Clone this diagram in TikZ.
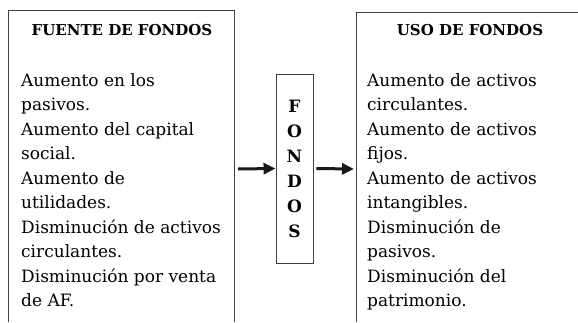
\documentclass[tikz,border=0pt]{standalone}
\usepackage{fontspec}
\setmainfont{DejaVu Serif}
\usetikzlibrary{arrows.meta}
\tikzset{
  frame/.style={draw=black!75, line width=0.9pt},
  coltext/.style={anchor=base west, align=left, inner sep=0pt, font=\fontsize{17}{24.5}\selectfont},
  coltitle/.style={anchor=base, inner sep=0pt, font=\fontsize{15}{16}\selectfont\bfseries},
  flow/.style={line width=3pt, -{Triangle[length=12pt,width=11pt]}, black!90},
  fbox/.style={draw=black!75, line width=0.9pt, minimum width=37pt, minimum height=189pt, inner sep=0pt, font=\fontsize{17}{25}\selectfont\bfseries, align=center}
}
\begin{document}
\begin{tikzpicture}[x=1pt,y=-1pt]
\useasboundingbox (0,0) rectangle (578,322);
% frames open at the bottom
\draw[frame] (8.5,322) -- (8.5,10.5) -- (234.5,10.5) -- (234.5,322);
\draw[frame] (356,322) -- (356,12) -- (578,12);
% titles
\node[coltitle] (t1) at (122,35.5) {FUENTE DE FONDOS};
\node[coltitle] (t2) at (470,35.5) {USO DE FONDOS};
% bodies (base anchor = baseline of the last line)
\node[coltext] (b1) at (21,306.5) {Aumento en los\\pasivos.\\Aumento del capital\\social.\\Aumento de\\utilidades.\\Disminución de activos\\circulantes.\\Disminución por venta\\de AF.};
\node[coltext] (b2) at (367,306.5) {Aumento de activos\\circulantes.\\Aumento de activos\\fijos.\\Aumento de activos\\intangibles.\\Disminución de\\pasivos.\\Disminución del\\patrimonio.};
% middle box
\node[fbox] (fondos) at (294.5,168.5) {F\\O\\N\\D\\O\\S};
\coordinate (a1) at (238,169);
\coordinate (a2) at (354,169);
\draw[flow] (a1) -- (fondos.west);
\draw[flow] ([xshift=3pt]fondos.east) -- (a2);
\end{tikzpicture}
\end{document}
